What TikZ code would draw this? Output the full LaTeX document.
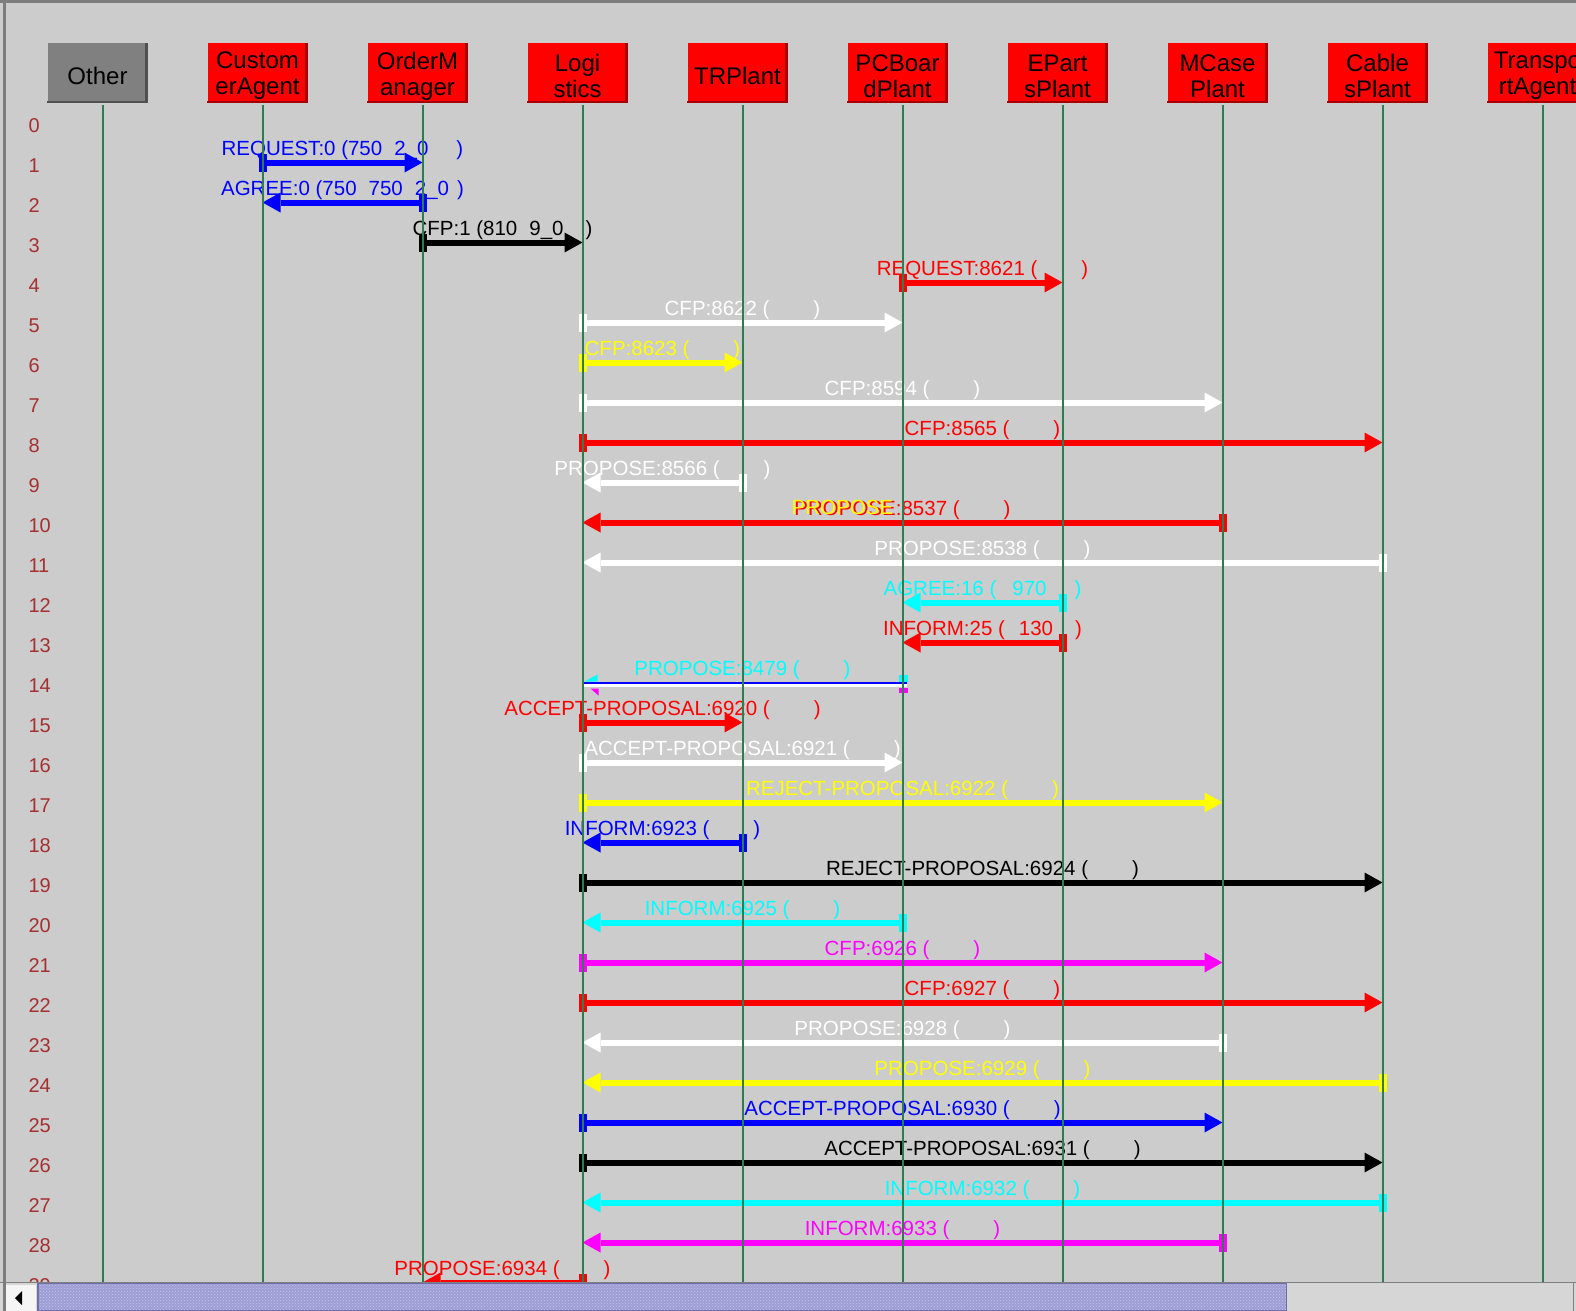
\documentclass[tikz,border=0pt]{standalone}
\usepackage{fontspec}
\setmainfont{Liberation Sans}
\usetikzlibrary{arrows.meta,calc,patterns}
\definecolor{fondGris}{RGB}{204,204,204}
\definecolor{vertVie}{RGB}{46,125,80}
\definecolor{rougeNum}{RGB}{165,48,48}
\definecolor{rougeBord}{RGB}{165,0,0}
\definecolor{autreGris}{RGB}{128,128,128}
\definecolor{autreBord}{RGB}{80,80,80}
\definecolor{cadreGris}{RGB}{125,125,125}
\definecolor{barreFond}{RGB}{158,158,212}
\definecolor{barreClair}{RGB}{196,196,238}
\definecolor{barreBord}{RGB}{110,110,170}
\definecolor{rouge}{RGB}{255,0,0}
\definecolor{bleu}{RGB}{0,0,255}
\definecolor{jaune}{RGB}{255,255,0}
\definecolor{cyanVif}{RGB}{0,255,255}
\definecolor{magentaVif}{RGB}{255,0,255}
\definecolor{blanc}{RGB}{255,255,255}
\definecolor{noir}{RGB}{0,0,0}
\newcommand\noargs{(\hspace{44pt})}

\begin{document}
\begin{tikzpicture}[x=1pt, y=-1pt,
  agent/.style={fill=rouge, minimum width=100pt, minimum height=59pt, inner sep=0pt},
  agtexte/.style={align=center, inner sep=0pt, font=\fontsize{24}{26}\selectfont},
  fleche/.style={#1, line width=6pt, shorten <=-4pt,
                 {Rectangle[length=8pt,width=18pt,line width=0pt]}-{Triangle[length=18pt,width=20pt,line width=0pt]}},
  etiq/.style={anchor=base, yshift=7pt, font=\fontsize{20.5}{24}\selectfont},
  num/.style={anchor=base west, rougeNum, font=\fontsize{20}{24}\selectfont},
  vie/.style={vertVie, line width=2pt}]

  \clip (0,0) rectangle (1576,1311);
  \fill[fondGris] (0,0) rectangle (1576,1311);

  % agents
  \node[agent, fill=autreGris] (OT-b) at (97.5,73) {};
  \node[agtexte] (OT-t) at ([yshift=-3pt]OT-b.center) {Other};
  \draw[autreBord, line width=3pt] ([xshift=-1.5pt]OT-b.north east) -- ([xshift=-1.5pt]OT-b.south east);
  \draw[autreBord, line width=2pt] ([yshift=1pt]OT-b.south west) -- ([yshift=1pt]OT-b.south east);
  \coordinate (OT) at (102.5,105);
  \foreach \i/\nm/\txt in {1/CA/{Custom\\erAgent}, 2/OM/{OrderM\\anager}, 3/LG/{Logi\\stics},
      4/TR/TRPlant, 5/PC/{PCBoar\\dPlant}, 6/EP/{EPart\\sPlant}, 7/MC/{MCase\\Plant},
      8/CB/{Cable\\sPlant}, 9/TA/{Transpo\\rtAgent}} {
    \node[agent] (\nm-b) at (97.5+160*\i,73) {};
    \node[agtexte] (\nm-t) at ([yshift=-3pt]\nm-b.center) {\txt};
    \draw[rougeBord, line width=3pt] ([xshift=-1.5pt]\nm-b.north east) -- ([xshift=-1.5pt]\nm-b.south east);
    \draw[rougeBord, line width=2pt] ([yshift=1pt]\nm-b.south west) -- ([yshift=1pt]\nm-b.south east);
    \coordinate (\nm) at (102.5+160*\i,105);
  }

  % rows
  \foreach \n in {0,...,29} {
    \coordinate (r\n) at (0,122.5+40*\n);
    \node[num] at (25,132.5+40*\n) {\n};
  }

  % messages
  \foreach \r/\a/\b/\c/\t in {
      1/CA/OM/bleu/{REQUEST:0 (750\hspace{12pt}2\_0\hspace{28pt})},
      2/OM/CA/bleu/{AGREE:0 (750\hspace{12pt}750\hspace{12pt}2\_0\hspace{8pt})},
      3/OM/LG/noir/{CFP:1 (810\hspace{12pt}9\_0\hspace{22pt})},
      4/PC/EP/rouge/{REQUEST:8621 \noargs},
      5/LG/PC/blanc/{CFP:8622 \noargs},
      6/LG/TR/jaune/{CFP:8623 \noargs},
      7/LG/MC/blanc/{CFP:8594 \noargs},
      8/LG/CB/rouge/{CFP:8565 \noargs},
      9/TR/LG/blanc/{PROPOSE:8566 \noargs},
      10/MC/LG/rouge/{PROPOSE:8537 \noargs},
      11/CB/LG/blanc/{PROPOSE:8538 \noargs},
      12/EP/PC/cyanVif/{AGREE:16 (\hspace{16pt}970\hspace{28pt})},
      13/EP/PC/rouge/{INFORM:25 (\hspace{14pt}130\hspace{22pt})},
      15/LG/TR/rouge/{ACCEPT-PROPOSAL:6920 \noargs},
      16/LG/PC/blanc/{ACCEPT-PROPOSAL:6921 \noargs},
      17/LG/MC/jaune/{REJECT-PROPOSAL:6922 \noargs},
      18/TR/LG/bleu/{INFORM:6923 \noargs},
      19/LG/CB/noir/{REJECT-PROPOSAL:6924 \noargs},
      20/PC/LG/cyanVif/{INFORM:6925 \noargs},
      21/LG/MC/magentaVif/{CFP:6926 \noargs},
      22/LG/CB/rouge/{CFP:6927 \noargs},
      23/MC/LG/blanc/{PROPOSE:6928 \noargs},
      24/CB/LG/jaune/{PROPOSE:6929 \noargs},
      25/LG/MC/bleu/{ACCEPT-PROPOSAL:6930 \noargs},
      26/LG/CB/noir/{ACCEPT-PROPOSAL:6931 \noargs},
      27/CB/LG/cyanVif/{INFORM:6932 \noargs},
      28/MC/LG/magentaVif/{INFORM:6933 \noargs},
      29/LG/OM/rouge/{PROPOSE:6934 \noargs}}
    \draw[fleche=\c] (\a |- r\r) -- (\b |- r\r) node[etiq, midway] (m\r) {\t};
  \node[etiq, jaune, anchor=base west] at ([yshift=-5.5pt]m10.base west) {PROPOSE};

  % row 14, overlapped messages
  \draw[blanc, line width=3pt] ($(LG |- r14)+(0,3)$) -- ($(PC |- r14)+(4,3)$);
  \draw[bleu, line width=2pt] (LG |- r14) -- ($(PC |- r14)+(4,0)$);
  \path (LG |- r14) -- (PC |- r14) node[etiq, midway, cyanVif] (m14) {PROPOSE:8479 \noargs};
  \fill[cyanVif] ($(LG |- r14)+(2,-1)$) -- ++(13,-7) -- ++(0,7) -- cycle;
  \fill[cyanVif] ($(PC |- r14)+(-4,-1)$) rectangle ++(9,-7);
  \fill[magentaVif] ($(LG |- r14)+(8,6)$) -- ++(8,0) -- ++(0,7) -- cycle;
  \fill[magentaVif] ($(PC |- r14)+(-4,5)$) rectangle ++(9,5);

  % lifelines
  \coordinate (bas) at (0,1282);
  \foreach \nm in {OT,CA,OM,LG,TR,PC,EP,MC,CB,TA}
    \draw[vie] (\nm) -- (\nm |- bas);

  % scrollbar
  \fill[fondGris!80!white] (0,1282) rectangle (1576,1311);
  \draw[gray] (0,1282.5) -- (1576,1282.5);
  \fill[white!92!gray] (6,1285) rectangle (36,1311);
  \fill[black] (15,1298) -- (22,1291) -- (22,1305) -- cycle;
  \fill[barreFond, postaction={pattern=crosshatch dots, pattern color=barreClair}]
    (37,1283) rectangle (1287,1311);
  \draw[barreBord, line width=1.5pt] (37.75,1283.5) rectangle (1286.25,1311);
  \draw[gray] (1573.5,1283) -- (1573.5,1311);

  % frame
  \fill[cadreGris] (0,0) rectangle (1576,3);
  \fill[cadreGris] (3,0) rectangle (5.5,1311);
\end{tikzpicture}
\end{document}
